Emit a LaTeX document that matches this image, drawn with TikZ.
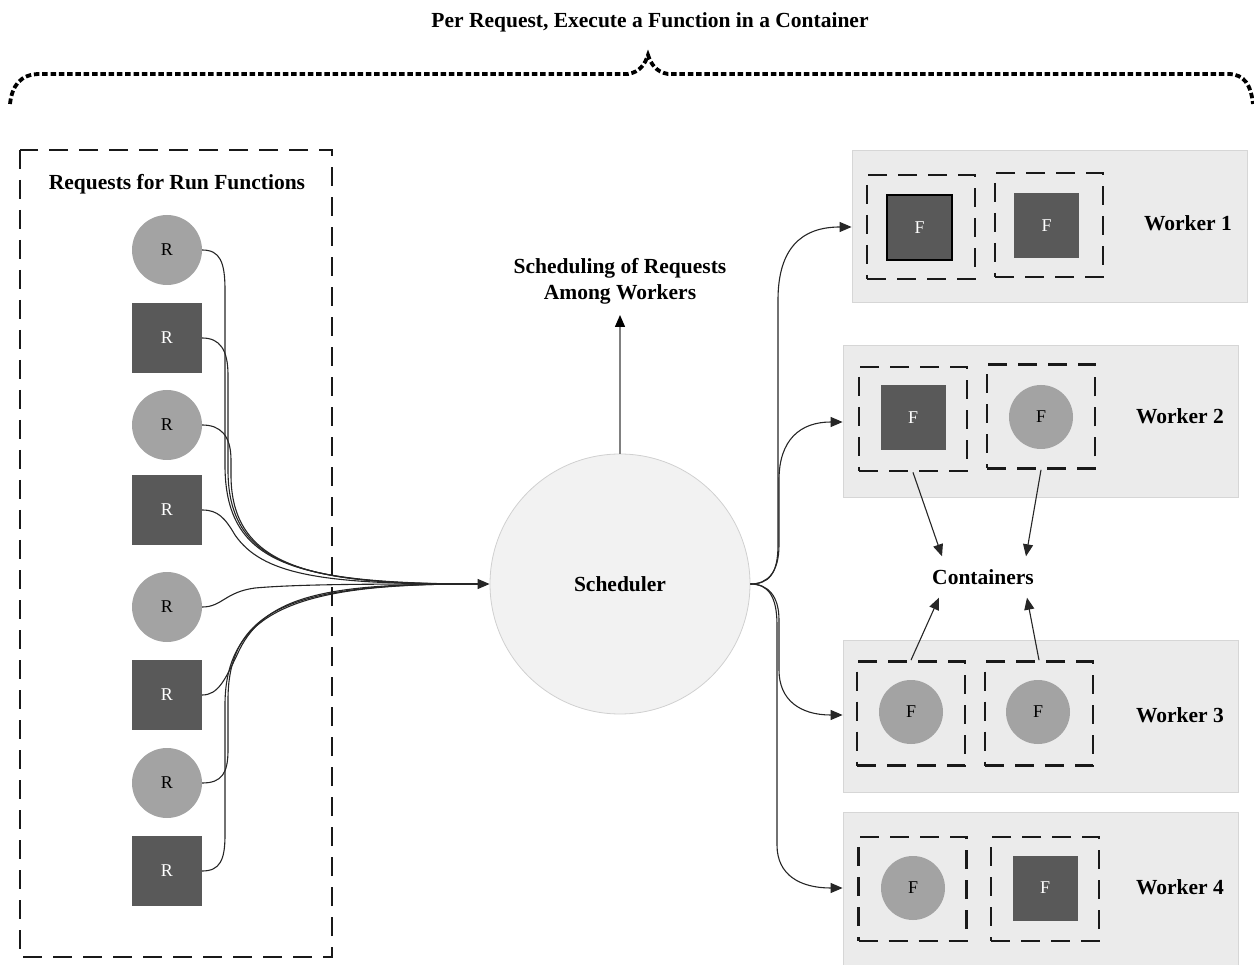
\documentclass[tikz,border=0pt]{standalone}
\usepackage{fontspec}
\setmainfont{Liberation Serif}
\usetikzlibrary{arrows.meta,calc}
\definecolor{rlight}{HTML}{A3A3A3}
\definecolor{rdark}{HTML}{595959}
\definecolor{wfill}{HTML}{EBEBEB}
\definecolor{wedge}{HTML}{D6D6D6}
\definecolor{sfill}{HTML}{F2F2F2}
\definecolor{sedge}{HTML}{D0D0D0}
\begin{document}
\begin{tikzpicture}[x=1pt,y=-1pt,
  lbl/.style={font=\fontsize{21.5}{26}\selectfont\bfseries, align=center},
  letter/.style={font=\fontsize{18}{20}\selectfont, inner sep=0pt},
  rcirc/.style={letter, circle, fill=rlight, minimum size=70pt},
  rsq/.style={letter, fill=rdark, text=white, minimum size=70pt},
  fcirc/.style={letter, circle, fill=rlight, minimum size=64pt},
  fsq/.style={letter, fill=rdark, text=white, minimum size=65pt},
  dbox/.style={draw=black!90, line width=2.8pt, dash pattern=on 19pt off 11pt},
  cbox/.style={dbox, minimum width=108pt, minimum height=104pt, inner sep=0pt},
  worker/.style={fill=wfill, draw=wedge, line width=0.8pt, minimum width=395pt, inner sep=0pt},
  wire/.style={line width=1.1pt, black!85},
  flow/.style={line width=1.1pt, black!85, -{Triangle[length=12pt,width=10pt]}}]

\useasboundingbox (0,0) rectangle (1254,965);

% title and dotted brace
\node[lbl] (title) at (650,22) {Per Request, Execute a Function in a Container};
\draw[line width=3.8pt, dash pattern=on 5.5pt off 2.8pt]
  (10,104) .. controls (12,86) and (20,74) .. (40,74) -- (628,74)
  .. controls (640,72) and (645,64) .. (648,55)
  .. controls (651,64) and (656,72) .. (668,74) -- (1228,74)
  .. controls (1245,74) and (1251,86) .. (1253,104);

% request pool
\draw[dbox] (20,150) rectangle (332,957);
\node[lbl] (pooltitle) at (177,184) {Requests for Run Functions};
\node[rcirc] (r1) at (167,250) {R};
\node[rsq]   (r2) at (167,338) {R};
\node[rcirc] (r3) at (167,425) {R};
\node[rsq]   (r4) at (167,510) {R};
\node[rcirc] (r5) at (167,607) {R};
\node[rsq]   (r6) at (167,695) {R};
\node[rcirc] (r7) at (167,783) {R};
\node[rsq]   (r8) at (167,871) {R};

% scheduler
\node[circle, fill=sfill, draw=sedge, line width=0.8pt, minimum size=260pt, inner sep=0pt,
      font=\fontsize{21.5}{26}\selectfont\bfseries] (sched) at (620,584) {Scheduler};
\node[lbl] (schedtitle) at (620,281) {Scheduling of Requests\\Among Workers};
\coordinate (up) at (620,315);
\coordinate (hub) at (462,584);

% request wires gathering into the scheduler
\draw[wire] (r1.east) .. controls (220,250) and (225,262) .. (225,290) -- (225,465)
  .. controls (225,562) and (290,582) .. (hub);
\draw[wire] (r2.east) .. controls (220,338) and (228,350) .. (228,375) -- (228,470)
  .. controls (228,564) and (300,583) .. (hub);
\draw[wire] (r3.east) .. controls (220,425) and (231,435) .. (231,460) -- (231,475)
  .. controls (231,566) and (310,584) .. (hub);
\draw[wire] (r4.east) .. controls (218,510) and (225,518) .. (235,535)
  .. controls (262,574) and (320,584) .. (hub);
\draw[wire] (r5.east) .. controls (222,607) and (225,592) .. (255,588)
  .. controls (300,584) and (380,584) .. (hub);
\draw[wire] (r6.east) .. controls (218,695) and (225,680) .. (237,655)
  .. controls (262,598) and (320,584) .. (hub);
\draw[wire] (r7.east) .. controls (222,783) and (228,773) .. (228,750) -- (228,700)
  .. controls (228,608) and (295,585) .. (hub);
\draw[wire] (r8.east) .. controls (220,871) and (225,860) .. (225,835) -- (225,705)
  .. controls (225,610) and (300,585) .. (hub);
\draw[flow] (hub) -- (sched.west);

% scheduling output
\draw[line width=1.4pt, black!50, -{Triangle[length=12pt,width=10pt,black]}]
  (sched.north) -- (up);

% workers
\node[worker, minimum height=152pt] (w1) at (1049.5,226) {};
\node[worker, minimum height=152pt] (w2) at (1040.5,421) {};
\node[worker, minimum height=152pt] (w3) at (1040.5,716) {};
\node[worker, minimum height=160pt] (w4) at (1040.5,892) {};
\node[lbl] (w1l) at (1188,223) {Worker 1};
\node[lbl] (w2l) at (1180,416) {Worker 2};
\node[lbl] (w3l) at (1180,715) {Worker 3};
\node[lbl] (w4l) at (1180,887) {Worker 4};

% containers with their functions
\node[cbox] (c11) at (921,227) {};
\node[cbox] (c12) at (1049,225) {};
\node[cbox] (c21) at (913,419) {};
\node[cbox] (c22) at (1041,416.5) {};
\node[cbox] (c31) at (911,713.5) {};
\node[cbox] (c32) at (1039,713.5) {};
\node[cbox] (c41) at (912.5,889) {};
\node[cbox] (c42) at (1045,889) {};

\node[fsq, draw=black, line width=2pt, minimum size=65pt] (f11) at (919.5,228) {F};
\node[fsq] (f12) at (1046.5,225.5) {F};
\node[fsq] (f21) at (913,418) {F};
\node[fcirc] (f22) at (1041,417) {F};
\node[fcirc] (f31) at (911,712) {F};
\node[fcirc] (f32) at (1038,712) {F};
\node[fcirc] (f41) at (913,888) {F};
\node[fsq] (f42) at (1045,888) {F};

% dispatch from the scheduler to the workers
\coordinate (d1) at (w1.west |- 0,227);
\coordinate (d2) at (w2.west |- 0,422);
\coordinate (d3) at (w3.west |- 0,715);
\coordinate (d4) at (w4.west |- 0,888);
\draw[flow] (sched.east) .. controls (768,584) and (778,575) .. (778,545) -- (778,300)
  .. controls (778,250) and (800,227) .. (d1);
\draw[flow] (sched.east) .. controls (768,584) and (779,572) .. (779,545) -- (779,480)
  .. controls (779,440) and (800,422) .. (d2);
\draw[flow] (sched.east) .. controls (768,584) and (779,596) .. (779,620) -- (779,670)
  .. controls (779,700) and (800,715) .. (d3);
\draw[flow] (sched.east) .. controls (768,584) and (777,596) .. (777,625) -- (777,845)
  .. controls (777,875) and (800,888) .. (d4);

% containers label
\node[font=\fontsize{21.5}{26}\selectfont\bfseries, minimum height=41pt, inner sep=0pt] (cont) at (983,577) {Containers};
\draw[flow] (c21.south) -- ([xshift=-41pt]cont.north);
\draw[flow] (c22.south) -- ([xshift=43pt]cont.north);
\draw[flow] (c31.north) -- ([xshift=-44pt]cont.south);
\draw[flow] (c32.north) -- ([xshift=44pt]cont.south);
\end{tikzpicture}
\end{document}
